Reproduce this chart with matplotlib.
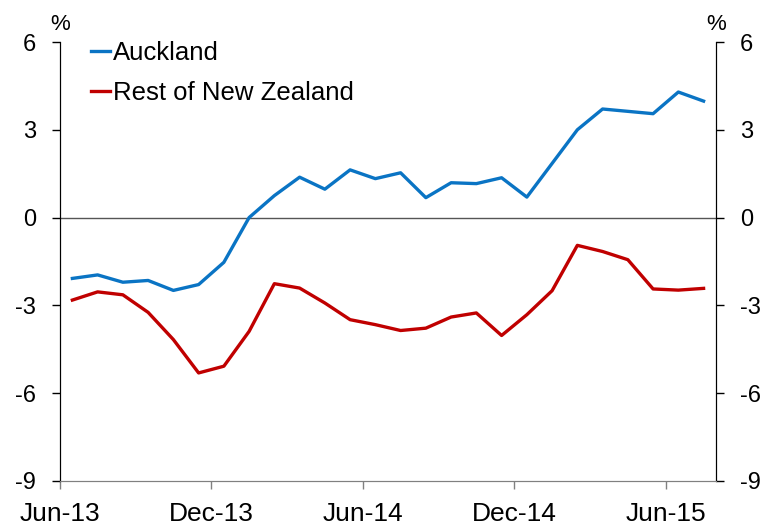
import numpy as np
import matplotlib.pyplot as plt

plt.rcParams['font.family'] = ['Liberation Sans', 'DejaVu Sans']
plt.rcParams['axes.unicode_minus'] = False

# monthly observations, Jun-13 to Jul-15
auckland = [-2.08, -1.96, -2.21, -2.15, -2.49, -2.29, -1.53, 0.0, 0.75, 1.38,
            0.97, 1.63, 1.33, 1.53, 0.68, 1.19, 1.16, 1.36, 0.70, 1.85,
            3.00, 3.71, 3.63, 3.55, 4.29, 3.98]
rest_nz = [-2.82, -2.54, -2.64, -3.24, -4.17, -5.31, -5.08, -3.89, -2.26, -2.41,
           -2.92, -3.49, -3.66, -3.86, -3.78, -3.40, -3.26, -4.03, -3.32, -2.50,
           -0.95, -1.16, -1.44, -2.44, -2.48, -2.42]
tick_labels = ['Jun-13', 'Dec-13', 'Jun-14', 'Dec-14', 'Jun-15']
y_ticks = [-9, -6, -3, 0, 3, 6]

# points sit in the middle of each month
x = np.arange(len(auckland)) + 0.5

fig = plt.figure(figsize=(7.66, 5.25), dpi=100)
ax = fig.add_axes([0.078, 0.084, 0.857, 0.836])

ax.axhline(0, color='#555555', lw=1.0, zorder=1)
ax.plot(x, auckland, color='#0A74C4', lw=2.4, label='Auckland', zorder=3)
ax.plot(x, rest_nz, color='#C00000', lw=2.4, label='Rest of New Zealand', zorder=3)

ax.set_xlim(0, 26)
ax.set_ylim(-9, 6)
ax.set_xticks(np.arange(0, 26, 6))
ax.set_xticklabels(tick_labels)
ax.set_yticks(y_ticks)

ax2 = ax.twinx()
ax2.set_ylim(-9, 6)
ax2.set_yticks(y_ticks)

for a in (ax, ax2):
    a.spines['top'].set_visible(False)
    a.spines['left'].set_color('black')
    a.spines['right'].set_color('black')
    a.spines['bottom'].set_color('#808080')
    a.tick_params(axis='y', labelsize=17, length=6, width=1, direction='out', pad=11)
ax.tick_params(axis='x', labelsize=19, length=6, width=1, direction='out',
               colors='#808080', labelcolor='black', pad=9)

ax.text(0, 6.25, '%', fontsize=16, ha='center', va='bottom')
ax.text(26, 6.25, '%', fontsize=16, ha='center', va='bottom')

leg = ax.legend(loc='upper left', bbox_to_anchor=(0.012, 1.055), frameon=False,
                fontsize=18.5, handlelength=0.75, handletextpad=0.12, labelspacing=0.62)

fig.savefig('out.png', dpi=100)
